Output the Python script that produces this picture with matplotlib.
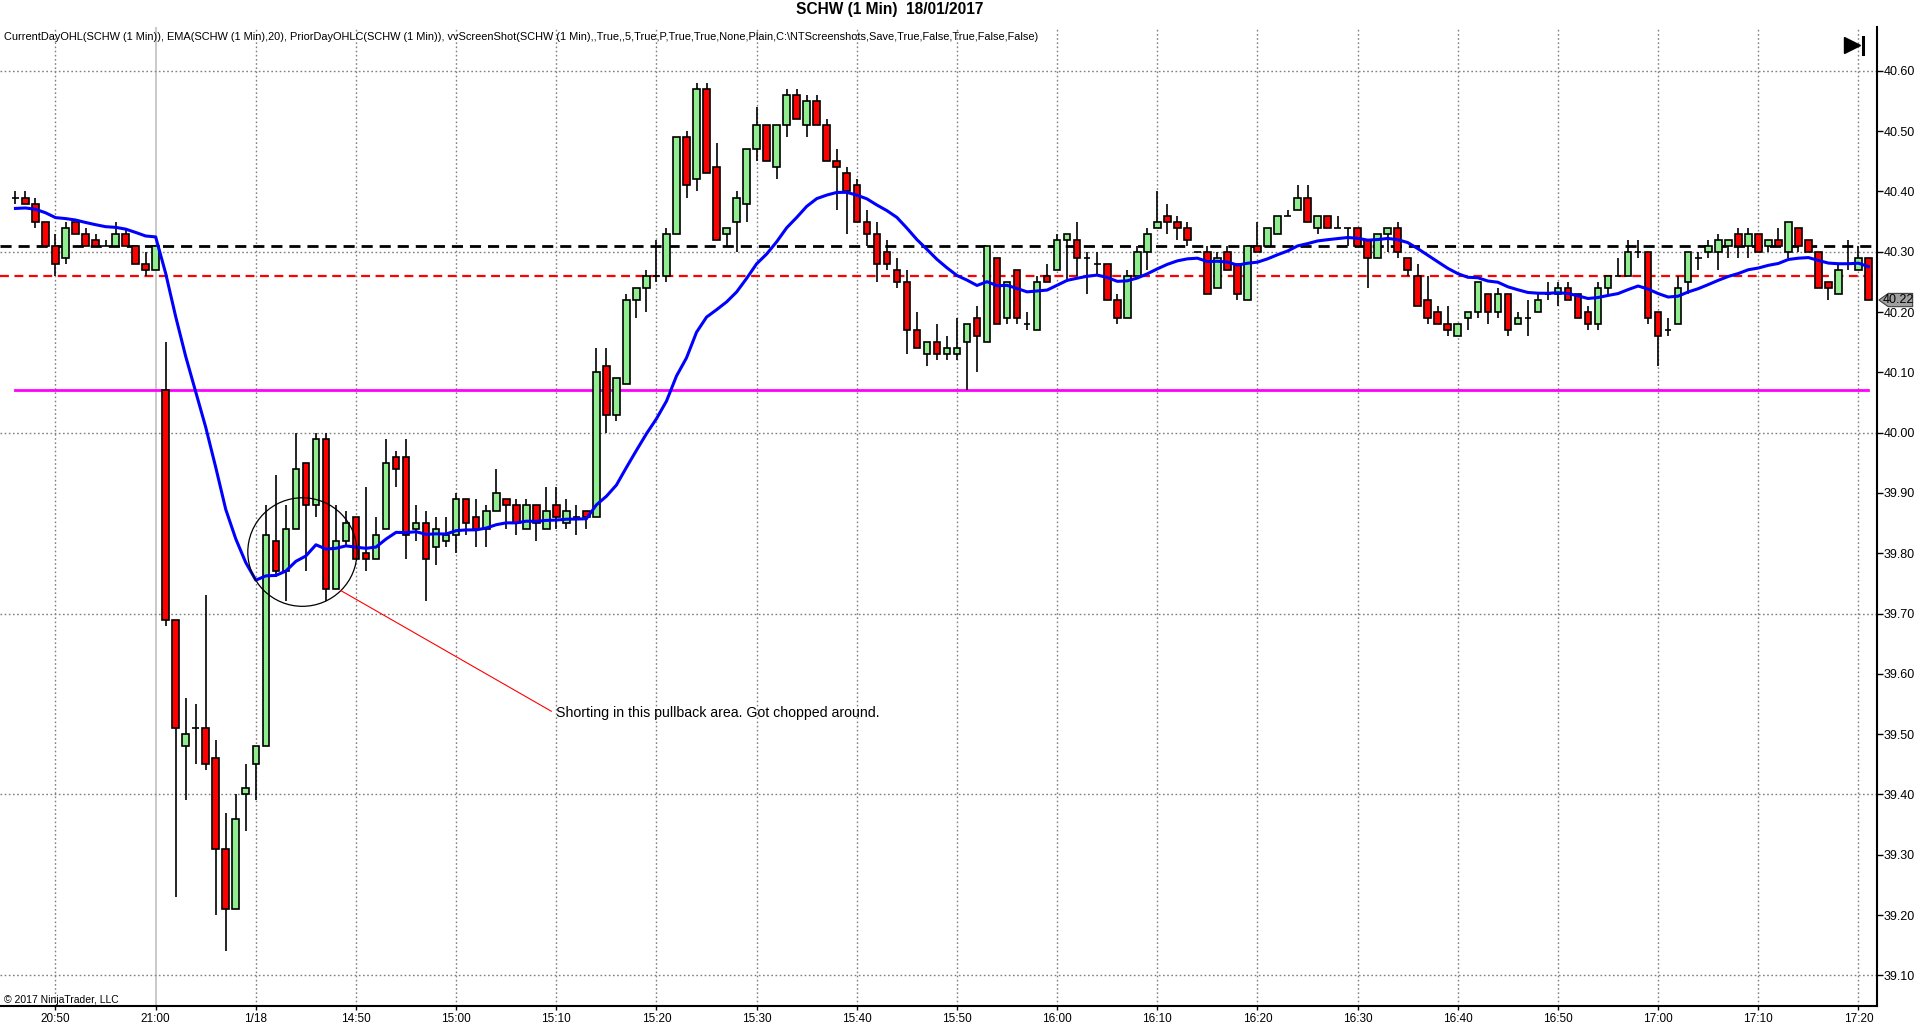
import matplotlib
matplotlib.use("Agg")
import matplotlib.pyplot as plt
from matplotlib.patches import Ellipse, Polygon
import numpy as np
import pandas as pd

plt.rcParams['font.family'] = ['Liberation Sans', 'DejaVu Sans']

# SCHW 1 min bars: 20:46-21:00 (17 Jan), then 14:31-17:21 (18 Jan)
opens = [
    40.39, 40.39, 40.38, 40.35, 40.31, 40.29, 40.35, 40.33, 40.32, 40.31,
    40.31, 40.33, 40.31, 40.28, 40.27, 40.07, 39.69, 39.48, 39.51, 39.51,
    39.46, 39.31, 39.21, 39.40, 39.45, 39.48, 39.82, 39.77, 39.84, 39.95,
    39.88, 39.99, 39.74, 39.82, 39.86, 39.80, 39.79, 39.84, 39.96, 39.96,
    39.84, 39.85, 39.81, 39.82, 39.83, 39.89, 39.86, 39.84, 39.87, 39.89,
    39.88, 39.84, 39.88, 39.84, 39.88, 39.85, 39.86, 39.87, 39.86, 40.11,
    40.03, 40.08, 40.22, 40.24, 40.26, 40.26, 40.33, 40.49, 40.42, 40.57,
    40.44, 40.33, 40.35, 40.38, 40.47, 40.51, 40.44, 40.51, 40.56, 40.51,
    40.55, 40.51, 40.45, 40.43, 40.41, 40.35, 40.33, 40.30, 40.27, 40.25,
    40.17, 40.13, 40.15, 40.13, 40.13, 40.15, 40.19, 40.15, 40.29, 40.19,
    40.27, 40.18, 40.17, 40.26, 40.27, 40.32, 40.32, 40.29, 40.28, 40.28,
    40.22, 40.19, 40.26, 40.30, 40.34, 40.36, 40.35, 40.34, 40.30, 40.30,
    40.24, 40.30, 40.28, 40.22, 40.31, 40.31, 40.33, 40.36, 40.37, 40.39,
    40.34, 40.36, 40.34, 40.34, 40.34, 40.32, 40.29, 40.33, 40.34, 40.29,
    40.26, 40.22, 40.20, 40.18, 40.16, 40.19, 40.20, 40.23, 40.20, 40.23,
    40.18, 40.19, 40.20, 40.23, 40.23, 40.24, 40.23, 40.20, 40.18, 40.24,
    40.26, 40.26, 40.30, 40.30, 40.20, 40.17, 40.18, 40.25, 40.29, 40.30,
    40.30, 40.31, 40.33, 40.31, 40.33, 40.31, 40.32, 40.30, 40.34, 40.32,
    40.30, 40.25, 40.23, 40.28, 40.27, 40.29,
]
highs = [
    40.40, 40.40, 40.39, 40.35, 40.33, 40.35, 40.35, 40.34, 40.33, 40.32,
    40.35, 40.34, 40.31, 40.30, 40.31, 40.15, 39.69, 39.56, 39.55, 39.73,
    39.49, 39.37, 39.40, 39.45, 39.48, 39.88, 39.93, 39.88, 40.00, 39.95,
    40.00, 40.00, 39.88, 39.87, 39.86, 39.91, 39.86, 39.99, 39.97, 39.99,
    39.88, 39.87, 39.86, 39.86, 39.90, 39.89, 39.89, 39.88, 39.94, 39.89,
    39.89, 39.89, 39.88, 39.91, 39.91, 39.89, 39.88, 39.87, 40.14, 40.14,
    40.09, 40.23, 40.24, 40.27, 40.32, 40.34, 40.49, 40.50, 40.58, 40.58,
    40.48, 40.34, 40.40, 40.47, 40.54, 40.51, 40.51, 40.57, 40.57, 40.56,
    40.56, 40.52, 40.47, 40.44, 40.42, 40.37, 40.35, 40.32, 40.29, 40.27,
    40.20, 40.15, 40.18, 40.16, 40.19, 40.18, 40.21, 40.31, 40.29, 40.25,
    40.27, 40.20, 40.26, 40.28, 40.33, 40.33, 40.35, 40.30, 40.30, 40.28,
    40.23, 40.27, 40.31, 40.34, 40.40, 40.38, 40.36, 40.35, 40.30, 40.31,
    40.30, 40.31, 40.28, 40.31, 40.35, 40.34, 40.36, 40.37, 40.41, 40.41,
    40.36, 40.36, 40.36, 40.34, 40.34, 40.32, 40.33, 40.34, 40.35, 40.29,
    40.28, 40.26, 40.21, 40.21, 40.18, 40.20, 40.25, 40.23, 40.24, 40.23,
    40.20, 40.22, 40.23, 40.25, 40.25, 40.25, 40.23, 40.21, 40.25, 40.26,
    40.29, 40.32, 40.32, 40.30, 40.20, 40.19, 40.26, 40.30, 40.30, 40.32,
    40.33, 40.32, 40.34, 40.34, 40.33, 40.32, 40.34, 40.35, 40.34, 40.32,
    40.30, 40.25, 40.28, 40.32, 40.31, 40.29,
]
lows = [
    40.38, 40.38, 40.34, 40.31, 40.26, 40.28, 40.33, 40.31, 40.31, 40.31,
    40.31, 40.31, 40.28, 40.26, 40.27, 39.68, 39.23, 39.39, 39.45, 39.44,
    39.20, 39.14, 39.21, 39.34, 39.39, 39.48, 39.76, 39.72, 39.84, 39.77,
    39.86, 39.72, 39.74, 39.81, 39.79, 39.77, 39.79, 39.84, 39.91, 39.79,
    39.82, 39.72, 39.78, 39.81, 39.80, 39.83, 39.81, 39.81, 39.87, 39.84,
    39.83, 39.84, 39.82, 39.84, 39.84, 39.84, 39.83, 39.84, 39.86, 40.00,
    40.02, 40.08, 40.19, 40.20, 40.25, 40.25, 40.33, 40.39, 40.40, 40.43,
    40.32, 40.31, 40.30, 40.35, 40.45, 40.45, 40.42, 40.49, 40.52, 40.49,
    40.51, 40.45, 40.37, 40.33, 40.35, 40.31, 40.25, 40.27, 40.24, 40.13,
    40.14, 40.11, 40.12, 40.12, 40.12, 40.07, 40.10, 40.15, 40.18, 40.18,
    40.18, 40.17, 40.17, 40.25, 40.27, 40.25, 40.26, 40.23, 40.26, 40.22,
    40.18, 40.19, 40.26, 40.27, 40.34, 40.33, 40.32, 40.31, 40.30, 40.23,
    40.24, 40.27, 40.22, 40.22, 40.30, 40.31, 40.33, 40.36, 40.37, 40.35,
    40.33, 40.34, 40.34, 40.31, 40.31, 40.24, 40.29, 40.30, 40.29, 40.26,
    40.21, 40.18, 40.18, 40.16, 40.16, 40.17, 40.19, 40.18, 40.19, 40.16,
    40.18, 40.16, 40.20, 40.22, 40.21, 40.22, 40.19, 40.17, 40.17, 40.23,
    40.26, 40.26, 40.29, 40.18, 40.11, 40.16, 40.18, 40.23, 40.27, 40.29,
    40.27, 40.29, 40.29, 40.29, 40.30, 40.30, 40.31, 40.29, 40.30, 40.30,
    40.24, 40.22, 40.23, 40.27, 40.27, 40.22,
]
closes = [
    40.39, 40.38, 40.35, 40.31, 40.28, 40.34, 40.33, 40.31, 40.31, 40.31,
    40.33, 40.31, 40.28, 40.27, 40.31, 39.69, 39.51, 39.50, 39.51, 39.45,
    39.31, 39.21, 39.36, 39.41, 39.48, 39.83, 39.77, 39.84, 39.94, 39.88,
    39.99, 39.74, 39.82, 39.85, 39.79, 39.79, 39.83, 39.95, 39.94, 39.83,
    39.85, 39.79, 39.84, 39.83, 39.89, 39.85, 39.84, 39.87, 39.90, 39.88,
    39.85, 39.88, 39.85, 39.87, 39.86, 39.87, 39.86, 39.86, 40.10, 40.03,
    40.09, 40.22, 40.24, 40.26, 40.26, 40.33, 40.49, 40.41, 40.57, 40.43,
    40.32, 40.34, 40.39, 40.47, 40.51, 40.45, 40.51, 40.56, 40.52, 40.55,
    40.51, 40.45, 40.44, 40.40, 40.35, 40.33, 40.28, 40.28, 40.25, 40.17,
    40.14, 40.15, 40.13, 40.14, 40.14, 40.18, 40.16, 40.31, 40.18, 40.25,
    40.19, 40.18, 40.25, 40.25, 40.32, 40.33, 40.29, 40.29, 40.28, 40.22,
    40.19, 40.26, 40.30, 40.33, 40.35, 40.35, 40.34, 40.32, 40.30, 40.23,
    40.29, 40.27, 40.23, 40.31, 40.30, 40.34, 40.36, 40.36, 40.39, 40.35,
    40.36, 40.34, 40.34, 40.34, 40.31, 40.29, 40.33, 40.34, 40.30, 40.27,
    40.21, 40.19, 40.18, 40.17, 40.18, 40.20, 40.25, 40.20, 40.23, 40.17,
    40.19, 40.19, 40.22, 40.23, 40.24, 40.22, 40.19, 40.18, 40.24, 40.26,
    40.26, 40.30, 40.30, 40.19, 40.16, 40.17, 40.24, 40.30, 40.29, 40.31,
    40.32, 40.32, 40.31, 40.33, 40.30, 40.32, 40.31, 40.35, 40.31, 40.30,
    40.24, 40.24, 40.27, 40.28, 40.29, 40.22,
]

ema_start = 40.37          # EMA(20) value at the first visible bar
prior_close = 40.31        # black dashed
prior_level = 40.26        # red dashed
day_low_level = 40.07      # magenta

tick_labels = ['20:50', '21:00', '1/18', '14:50', '15:00', '15:10', '15:20',
               '15:30', '15:40', '15:50', '16:00', '16:10', '16:20', '16:30',
               '16:40', '16:50', '17:00', '17:10', '17:20']
first_tick_bar = 4
session_break_bar = 14

o = np.array(opens)
h = np.array(highs)
l = np.array(lows)
c = np.array(closes)
x = np.arange(len(c))

ema = pd.Series(np.r_[ema_start, c]).ewm(span=20, adjust=False).mean().values[1:]

fig = plt.figure(figsize=(19.2, 10.34), dpi=100)
ax = fig.add_axes([0.0, 0.027, 0.9776, 0.947])

# grid
tick_pos = first_tick_bar + 10 * np.arange(len(tick_labels))
for tp in tick_pos:
    if tp == session_break_bar:
        ax.axvline(tp, color='#c0c0c0', lw=1.2, zorder=0)
    else:
        ax.axvline(tp, color='#808080', lw=1, ls=(0, (1.2, 1.8)), zorder=0)
for gy in np.arange(39.10, 40.61, 0.30):
    ax.axhline(gy, color='#808080', lw=1, ls=(0, (1.2, 1.8)), zorder=0)

# levels
ax.axhline(prior_close, color='black', lw=2, ls=(0, (4, 2.5)), zorder=1)
ax.axhline(prior_level, color='red', lw=1.6, ls=(0, (4, 2.5)), zorder=1)
ax.plot([x[0], x[-1]], [day_low_level, day_low_level], color='#ff00ff', lw=2, zorder=1)

# candles
up = c >= o
ax.vlines(x, l, h, color='black', lw=1.2, zorder=2)
ax.bar(x, np.abs(c - o), bottom=np.minimum(o, c), width=0.66,
       color=np.where(up, '#90ee90', '#ff0000'), edgecolor='black', lw=1.2, zorder=3)

ax.plot(x, ema, color='#0000ff', lw=2.2, zorder=4)

# annotation
ax.add_patch(Ellipse((28.65, 39.802), 10.9, 0.18, fill=False, ec='black', lw=0.9, zorder=5))
ax.plot([32.5, 53.5], [39.738, 39.538], color='red', lw=0.8, zorder=5)
ax.text(54.0, 39.535, 'Shorting in this pullback area. Got chopped around.',
        fontsize=10.2, va='center', ha='left', zorder=6)

ax.set_xlim(-1.54, 185.85)
ax.set_ylim(39.049, 40.673)

ax.spines['top'].set_visible(False)
ax.spines['left'].set_visible(False)
ax.spines['right'].set_linewidth(1.5)
ax.spines['bottom'].set_linewidth(1.5)

ax.yaxis.tick_right()
yt = np.round(np.arange(39.10, 40.61, 0.10), 2)
ax.set_yticks(yt)
ax.set_yticklabels([f'{v:.2f}' for v in yt])
ax.tick_params(axis='y', direction='out', length=4, width=1, labelsize=9, pad=1)
ax.set_xticks(tick_pos)
ax.set_xticklabels(tick_labels)
ax.tick_params(axis='x', direction='out', length=3, width=1, labelsize=8.5, pad=2)

# last price marker
tr = ax.get_yaxis_transform()
last = c[-1]
ax.add_patch(Polygon([(1.001, last), (1.006, last + 0.011), (1.019, last + 0.011),
                      (1.019, last - 0.011), (1.006, last - 0.011)],
                     closed=True, transform=tr, clip_on=False,
                     fc='#a0a0a0', ec='#404040', lw=0.8, zorder=6))
ax.text(1.0115, last, f'{last:.2f}', transform=tr, fontsize=9,
        ha='center', va='center', clip_on=False, zorder=7)

# "go to last bar" button
ax.plot([0.9866], [0.981], marker='>', ms=11, color='black', transform=ax.transAxes)
ax.plot([0.9928, 0.9928], [0.9725, 0.990], color='black', lw=2.2, transform=ax.transAxes)

fig.text(0.4633, 0.9905, 'SCHW (1 Min)  18/01/2017', fontsize=11.2, fontweight='bold',
         ha='center', va='center')
fig.text(0.002, 0.9645,
         'CurrentDayOHL(SCHW (1 Min)), EMA(SCHW (1 Min),20), PriorDayOHLC(SCHW (1 Min)), '
         'vvScreenShot(SCHW (1 Min),,True,,5,True,P,True,True,None,Plain,'
         'C:\\NTScreenshots,Save,True,False,True,False,False)',
         fontsize=7.9, ha='left', va='center')
fig.text(0.002, 0.033, '\u00a9 2017 NinjaTrader, LLC', fontsize=7.5, ha='left', va='center')

fig.savefig('out.png', dpi=100)
